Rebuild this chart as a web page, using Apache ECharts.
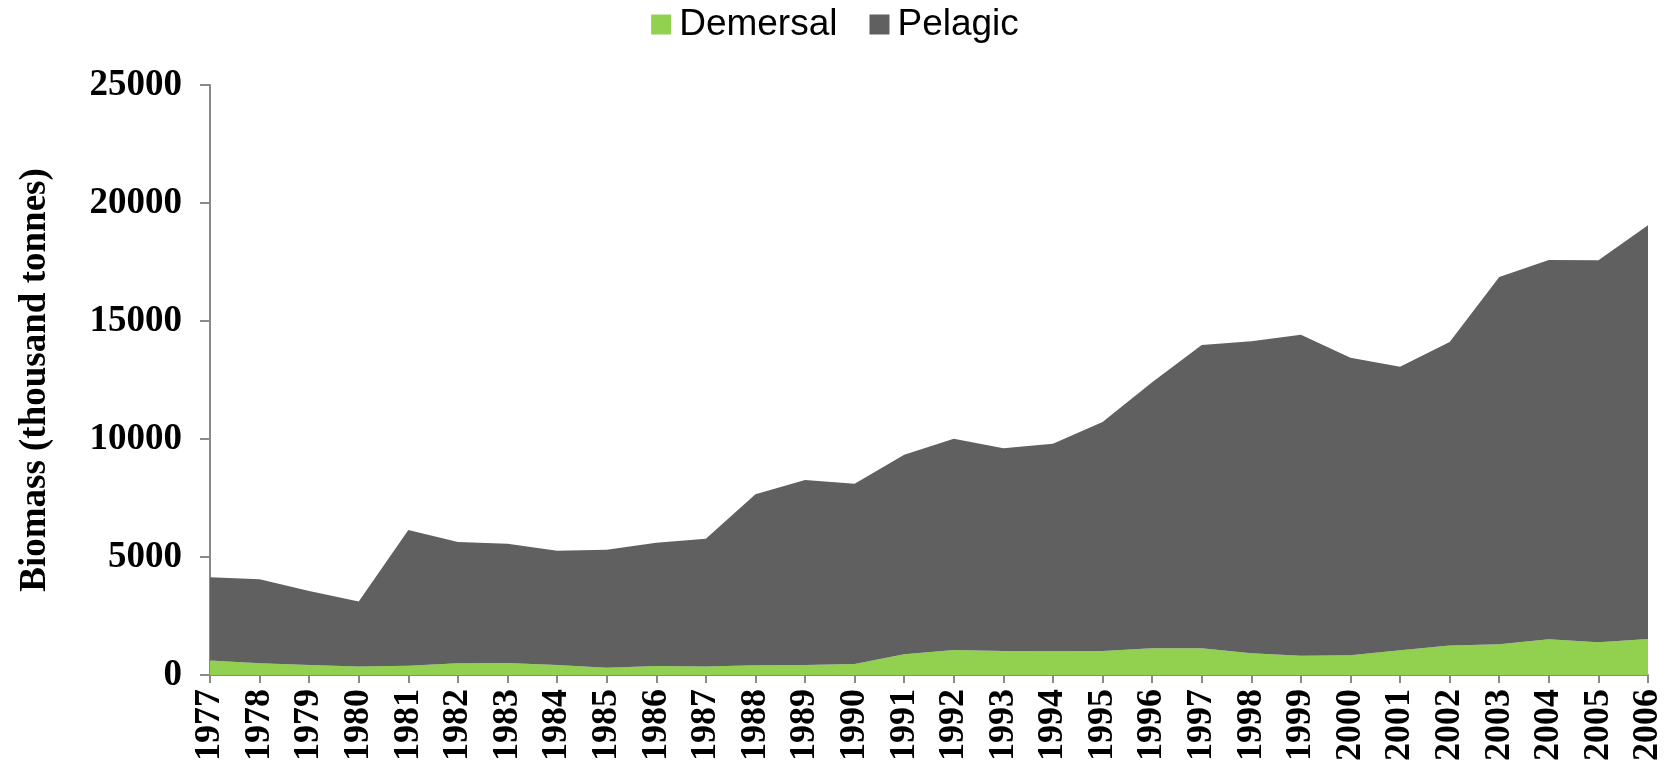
<!DOCTYPE html>
<html>
<head>
<meta charset="utf-8">
<script src="https://cdn.jsdelivr.net/npm/echarts@6/dist/echarts.min.js"></script>
<style>
  html, body { margin: 0; padding: 0; background: #fff; }
  #main { width: 1670px; height: 783px; }
</style>
</head>
<body>
<div id="main"></div>
<script>
// years on the x axis
const years = ['1977', '1978', '1979', '1980', '1981', '1982', '1983', '1984', '1985', '1986',
  '1987', '1988', '1989', '1990', '1991', '1992', '1993', '1994', '1995', '1996',
  '1997', '1998', '1999', '2000', '2001', '2002', '2003', '2004', '2005', '2006'];

// biomass, thousand tonnes (stacked)
const demersal = [610, 495, 425, 355, 395, 495, 510, 425, 310, 380,
  355, 410, 425, 465, 875, 1060, 1015, 1005, 1015, 1130,
  1130, 920, 820, 835, 1045, 1255, 1300, 1510, 1385, 1525];
const pelagic = [3530, 3560, 3135, 2755, 5750, 5140, 5055, 4845, 5000, 5225,
  5420, 7245, 7840, 7640, 8460, 8955, 8590, 8795, 9705, 11270,
  12855, 13220, 13600, 12610, 12020, 12855, 15565, 16075, 16185, 17530];

const serif = '"Liberation Serif", "Times New Roman", serif';
const axisGrey = '#898989';

var myChart = echarts.init(document.getElementById('main'));

// one stacked area layer
const layer = (name, data, color) => ({
  name,
  type: 'line',
  stack: 'total',
  data,
  symbol: 'none',
  lineStyle: { width: 0 },
  areaStyle: { color, opacity: 1 },
  itemStyle: { color },
  z: 2
});

myChart.setOption({
  animation: false,
  legend: {
    top: 1,
    left: 'center',
    itemWidth: 20,
    itemHeight: 20,
    itemGap: 32,
    icon: 'rect',
    textStyle: { fontFamily: '"Liberation Sans", Arial, sans-serif', fontSize: 37, color: '#000', padding: [0, 0, 0, 3] },
    data: ['Demersal', 'Pelagic']
  },
  grid: { left: 210, right: 22, top: 85, bottom: 108 },
  xAxis: {
    type: 'category',
    data: years,
    boundaryGap: false,
    axisLine: { lineStyle: { color: axisGrey, width: 2 } },
    axisTick: { show: true, length: 8, inside: false, alignWithLabel: true, lineStyle: { color: axisGrey, width: 2 } },
    axisLabel: {
      rotate: 90,
      margin: 14,
      interval: 0,
      fontFamily: serif,
      fontWeight: 'bold',
      fontSize: 36,
      color: '#000'
    },
    splitLine: { show: false }
  },
  yAxis: {
    type: 'value',
    min: 0,
    max: 25000,
    interval: 5000,
    name: 'Biomass (thousand tonnes)',
    nameLocation: 'middle',
    nameGap: 156,
    nameTextStyle: { fontFamily: serif, fontWeight: 'bold', fontSize: 37, color: '#000' },
    axisLine: { show: true, lineStyle: { color: axisGrey, width: 2 } },
    axisTick: { show: true, length: 10, lineStyle: { color: axisGrey, width: 2 } },
    axisLabel: {
      margin: 28,
      fontFamily: serif,
      fontWeight: 'bold',
      fontSize: 37,
      color: '#000',
      formatter: (v) => String(v)
    },
    splitLine: { show: false }
  },
  series: [
    layer('Demersal', demersal, '#92D050'),
    layer('Pelagic', pelagic, '#606060')
  ]
});
</script>
</body>
</html>
